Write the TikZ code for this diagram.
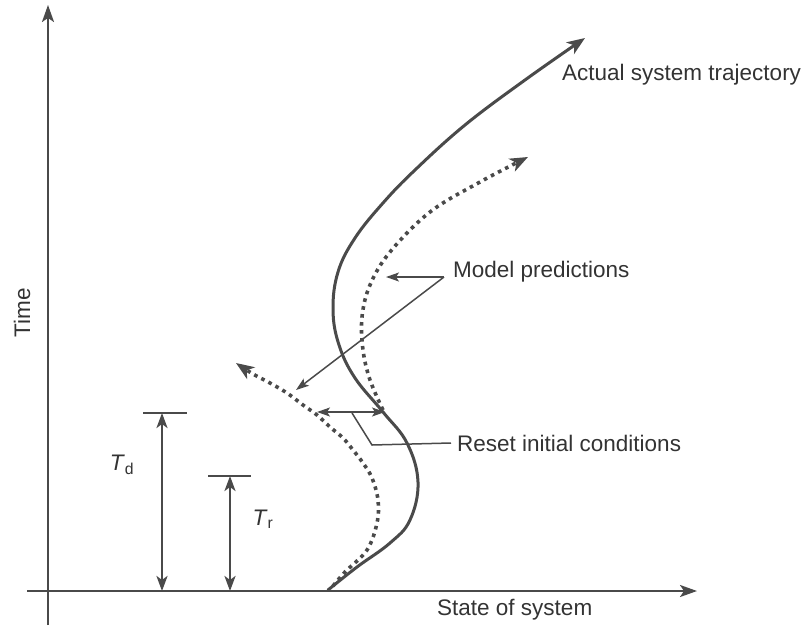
\documentclass[tikz,border=0pt]{standalone}
\usepackage{fontspec}
\setmainfont{Liberation Sans}
\usetikzlibrary{arrows.meta}
\definecolor{ink}{HTML}{4A4A4A}
\definecolor{txt}{HTML}{333333}
\begin{document}
\begin{tikzpicture}[x=1pt,y=-1pt,
  axis/.style={draw=ink, line width=2.2pt, -{Stealth[length=17pt,width=12pt,inset=4pt]}},
  traj/.style={draw=ink, line width=3pt, line cap=round},
  pred/.style={draw=ink, line width=3.6pt, dash pattern=on 3.6pt off 4.4pt},
  lead/.style={draw=ink, line width=1.5pt},
  bigtip/.style={-{Stealth[length=18pt,width=14pt,inset=5pt]}},
  dtip/.style={{Stealth[length=15pt,width=11pt,inset=4pt]}-{Stealth[length=15pt,width=11pt,inset=4pt]}},
  stip/.style={-{Stealth[length=13pt,width=9pt,inset=3pt]}},
  lbl/.style={font=\fontsize{22.5}{26}\selectfont, text=txt, inner sep=0pt, anchor=west},
]
\useasboundingbox (0,0) rectangle (807,630);
% axes
\coordinate (vb) at (48,625);
\coordinate (vt) at (48,5);
\coordinate (hl) at (27,591);
\coordinate (hr) at (697,591);
\draw[axis] (vb) -- (vt);
\draw[axis] (hl) -- (hr);
\node[lbl, anchor=center, rotate=90] (time) at (22,313) {Time};
\node[lbl] (state) at (437,610) {State of system};

% Td and Tr
\coordinate (tdl) at (143,413); \coordinate (tdr) at (187,413);
\coordinate (tdt) at (162,413); \coordinate (tdb) at (162,591);
\coordinate (trl) at (208,476); \coordinate (trr) at (251,476);
\coordinate (trt) at (230,476); \coordinate (trb) at (230,591);
\draw[lead] (tdl) -- (tdr);
\draw[lead] (trl) -- (trr);
\draw[draw=ink, line width=2.6pt, dtip] (tdt) -- (tdb);
\draw[draw=ink, line width=2.6pt, dtip] (trt) -- (trb);
\node[lbl, anchor=center] (td) at (122,465) {\textit{T}\textsubscript{d}};
\node[lbl, anchor=center] (tr) at (263,519) {\textit{T}\textsubscript{r}};

% actual trajectory
\draw[traj, bigtip] plot[smooth, tension=0.65] coordinates {
  (328,590) (357,567) (390,543) (410,520) (418,482) (407,443) (383,412)
  (355,378) (339,345) (333,310) (338,272) (355,238) (383,203) (415,170)
  (465,125) (525,80) (585,38)};
\node[lbl] (act) at (562,75) {Actual system trajectory};

% upper prediction
\draw[pred, bigtip] plot[smooth, tension=0.6] coordinates {
  (383,410) (370,380) (363,350) (362,317) (370,285) (390,252) (430,212)
  (480,182) (528,157)};
% lower prediction
\draw[pred, bigtip] plot[smooth, tension=0.6] coordinates {
  (333,586) (345,572) (367,550) (377,523) (378,500) (372,478) (363,463)
  (353,450) (343,438) (330,427) (317,415) (303,405) (287,393) (270,383)
  (253,374) (236,363)};

% model predictions leaders
\node[lbl] (mp) at (453,272) {Model predictions};
\coordinate (mpo) at (444,277);
\coordinate (mpa) at (386,277);
\coordinate (mpb) at (296,390);
\draw[lead, stip] (mpo) -- (mpa);
\draw[lead, stip] (mpo) -- (mpb);

% reset initial conditions
\coordinate (rl) at (317,412);
\coordinate (rr) at (385,412);
\draw[lead, {Stealth[length=13pt,width=9pt,inset=3pt]}-{Stealth[length=13pt,width=9pt,inset=3pt]}] (rl) -- (rr);
\coordinate (r1) at (352,413);
\coordinate (r2) at (372,445);
\node[lbl] (rs) at (457,443) {Reset initial conditions};
\draw[lead] (r1) -- (r2) -- ([xshift=-6pt]rs.west);
\end{tikzpicture}
\end{document}
